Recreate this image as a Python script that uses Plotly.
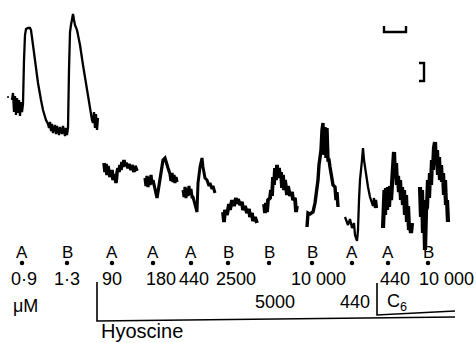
import plotly.graph_objects as go

# ---- recorded trace (time in px-like units, response plotted downward-inverted) ----
seg1_x = [12,13,14,15,16,17,18,19,20,21,22,23,24,25,26,28,30,31,33,35,38,41,43,46,48,49,50,51,52,53,55,56,57,59,60,62,63,65,66,67,68,69,70,71,72,73,74,75,77,80,83,86,89,92,93,94,95,96,97,98]
seg1_y = [100,93,112,96,115,98,113,100,116,102,112,104,60,35,29,28,28,30,45,62,83,100,110,120,124,128,122,131,124,133,125,134,126,135,127,134,126,136,128,135,128,70,32,25,18,14,20,25,30,45,65,85,105,120,123,112,128,114,130,118]

seg2_x = [104,105,106,107,108,110,112,113,115,116,117,118,119,120,121,122,123,124,125,126,128,129,131,132,134,135,137]
seg2_y = [163,172,164,175,166,177,170,180,174,183,173,168,172,165,170,162,167,160,166,163,168,164,170,165,172,166,171]

seg3_x = [145,146,147,148,149,150,151,152,153,155,157,158,160,162,163,165,166,168,170,171,172,173,174,175,176,177]
seg3_y = [178,186,176,187,177,185,175,184,180,190,198,192,177,165,160,158,162,168,174,181,173,182,175,183,177,182]

seg4_x = [183,184,185,186,187,188,189,190,191,192,193,195,197,198,200,202,203,205,207,209,210,212,213,215]
seg4_y = [190,197,187,198,188,196,186,195,189,197,197,205,212,183,167,158,167,178,180,186,183,189,186,193]

seg5_x = [223,224,225,227,229,230,232,234,236,237,238,240,242,243,245,247,249,250,252,253,255,257]
seg5_y = [212,222,210,215,204,210,200,206,198,204,199,205,202,210,206,213,209,217,213,221,217,223]

seg6_x = [264,265,266,267,268,270,271,272,273,274,275,276,277,278,279,280,281,282,283,284,285,287,288,290,292,293,295,296,297]
seg6_y = [204,213,203,212,200,198,190,196,177,185,168,180,165,178,168,177,172,188,175,190,180,195,186,196,192,200,198,212,206]

seg7_x = [307,308,310,312,313,315,317,318,319,320,321,322,323,324,325,326,327,328,329,330,331,332,333,335,336,337,338]
seg7_y = [227,213,214,212,212,203,190,180,165,155,150,130,123,155,127,158,128,160,160,167,175,180,185,187,200,192,207]

seg8_x = [345,348,350,352,354,355,357,358,359,360,362,363,364,366,368,370,372,373,374,375,376,377]
seg8_y = [217,225,219,228,223,235,241,230,200,180,160,148,160,175,187,197,203,206,198,208,200,208]

seg9_x = [383,383.5,384,384.5,385,386,387,388,389,390,391,392,393,394,395,396,397,398,399,400,401,402,403,404,405,406,407,408,409,410,411,412]
seg9_y = [228,195,226,190,215,188,210,187,207,186,200,181,170,152,178,163,185,176,192,180,200,187,205,190,215,195,222,206,230,225,233,223]

seg10_x = [420,421,422,423,424,425,426,427,428,429,430,431,432,433,434,435,436,437,438,439,440,441,442,443,444,445,446,447,448]
seg10_y = [187,217,190,233,200,250,210,207,180,198,173,185,160,170,148,142,165,150,175,157,180,165,182,173,195,180,205,200,222]

segments = [(seg1_x, seg1_y, 2.3), (seg2_x, seg2_y, 3.6), (seg3_x, seg3_y, 3.2),
            (seg4_x, seg4_y, 3.0), (seg5_x, seg5_y, 3.8), (seg6_x, seg6_y, 3.8),
            (seg7_x, seg7_y, 3.4), (seg8_x, seg8_y, 2.3), (seg9_x, seg9_y, 4.2),
            (seg10_x, seg10_y, 4.2)]

# ---- dose markers ----
agonists = ["A", "B", "A", "A", "A", "B", "B", "B", "A", "A", "B"]
dose_time = [22, 67, 112, 153, 191, 228, 269, 312, 352, 388, 428]

conc_row1 = ["0·9", "1·3", "90", "180", "440", "2500", "10 000", "440", "10 000"]
conc_row1_t = [24, 67, 112, 161, 194, 236, 318, 395, 446]
conc_row2 = ["5000", "440", "C<sub>6</sub>"]
conc_row2_t = [275, 355, 397]

FONT = "Liberation Sans"
fig = go.Figure()

for sx, sy, w in segments:
    fig.add_trace(go.Scatter(x=sx, y=sy, mode="lines",
                             line=dict(color="black", width=w),
                             hoverinfo="skip", showlegend=False))

# dots under letters
fig.add_trace(go.Scatter(x=dose_time, y=[263] * len(dose_time), mode="markers",
                         marker=dict(color="black", size=4.5),
                         hoverinfo="skip", showlegend=False))
# stray dot on the left
fig.add_trace(go.Scatter(x=[8], y=[97], mode="markers",
                         marker=dict(color="black", size=2),
                         hoverinfo="skip", showlegend=False))

ann = []
for t, s in zip(dose_time, agonists):
    ann.append(dict(x=t, y=252, text=s, showarrow=False,
                    font=dict(family=FONT, size=17, color="black")))
for t, s in zip(conc_row1_t, conc_row1):
    ann.append(dict(x=t, y=279, text=s, showarrow=False,
                    font=dict(family=FONT, size=18, color="black")))
for t, s in zip(conc_row2_t, conc_row2):
    ann.append(dict(x=t, y=302, text=s, showarrow=False,
                    font=dict(family=FONT, size=18, color="black")))
ann.append(dict(x=25, y=306, text="μM", showarrow=False,
                font=dict(family=FONT, size=18, color="black")))
ann.append(dict(x=99, y=331, text="Hyoscine", showarrow=False, xanchor="left",
                font=dict(family=FONT, size=20, color="black")))

shapes = []
L = dict(color="black", width=1.6)
# hyoscine bracket
shapes.append(dict(type="path", path="M 97 282 L 97 321 L 455 317", line=L))
# C6 bracket
shapes.append(dict(type="path", path="M 377 283 L 377 315 L 455 311", line=L))
# time scale bar
shapes.append(dict(type="path", path="M 384 26 L 384 32 L 406 32 L 406 26",
                   line=dict(color="black", width=2.4)))
# response scale bar
shapes.append(dict(type="path", path="M 419 63 L 424 63 L 424 81 L 419 81",
                   line=dict(color="black", width=2.4)))

fig.update_layout(
    width=476, height=343,
    margin=dict(l=0, r=0, t=0, b=0),
    paper_bgcolor="white", plot_bgcolor="white",
    xaxis=dict(range=[0, 476], visible=False, fixedrange=True),
    yaxis=dict(range=[343, 0], visible=False, fixedrange=True),
    annotations=ann, shapes=shapes,
)
fig.write_html("out.html", config={"displayModeBar": False},
               post_script="document.body.style.margin='0';document.body.style.overflow='hidden';")
